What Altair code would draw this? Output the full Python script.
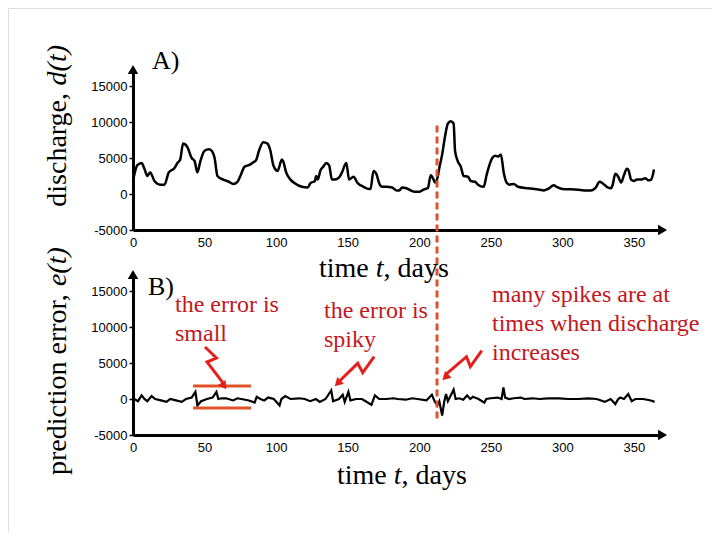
import altair as alt
import pandas as pd

# ---------------- data ----------------
top_days = [0, 3, 6, 8, 10, 12, 15, 19, 22, 25, 29, 31, 33, 35, 38, 41, 43, 45, 47, 50, 53, 55, 57, 59,
            63, 67, 70, 73, 75, 78, 81, 84, 86, 88, 91, 94, 96, 98, 100, 101, 104, 105, 107, 110, 113,
            118, 122, 124, 127, 128, 129, 131, 133, 135, 137, 139, 141, 144, 146, 148, 149, 151, 154,
            157, 161, 165, 166, 168, 170, 172, 174, 177, 181, 184, 186, 188, 191, 194, 197, 200, 202,
            204, 206, 208, 210, 211, 213, 214, 216, 218, 220, 222, 224, 225, 227, 229, 231, 234, 236,
            239, 241, 245, 247, 249, 251, 253, 255, 257, 259, 261, 263, 266, 269, 276, 284, 287, 290,
            294, 296, 300, 311, 315, 320, 323, 326, 328, 331, 334, 335, 337, 339, 341, 343, 345, 346,
            348, 350, 352, 355, 358, 360, 362, 364]
top_vals = [1800, 4000, 4300, 3500, 2500, 3000, 1800, 1300, 1300, 3000, 3600, 4300, 4800, 7000, 6500,
            5000, 4600, 3000, 4500, 6000, 6200, 6000, 5000, 2500, 2000, 1700, 1400, 1700, 2500, 3800,
            4000, 4400, 4700, 6000, 7200, 7000, 6000, 4000, 3300, 3200, 4800, 4500, 3000, 2000, 1500,
            1000, 900, 1500, 1800, 2500, 2000, 3300, 3800, 4300, 4000, 2000, 2000, 2300, 3000, 4000,
            4300, 2000, 2400, 1500, 1000, 700, 700, 3200, 2800, 1500, 1000, 1000, 900, 500, 500, 900,
            800, 500, 300, 300, 500, 700, 800, 2600, 2000, 1600, 2500, 3600, 5500, 8000, 9800, 10100,
            9800, 6000, 4500, 3800, 2500, 2400, 1800, 1700, 1300, 1000, 2600, 4000, 5000, 5300, 5200,
            5500, 3000, 1600, 1300, 1400, 1000, 800, 600, 500, 700, 1200, 1000, 700, 600, 500, 500,
            800, 1700, 1500, 1000, 800, 1200, 2800, 2400, 1600, 2600, 3500, 3400, 2000, 1800, 2000,
            2000, 2200, 1900, 2000, 3400]

err_days = [0, 1, 3.5, 6, 8, 10, 13, 15.5, 19.5, 23.5, 26, 30, 34, 37, 41, 43.6, 45, 47.6, 51.6, 55.6,
            58.3, 59.6, 62, 65, 70, 73, 75.7, 81, 85, 86.4, 89, 91.7, 94.4, 98.4, 102.4, 103.7, 106.4,
            110, 116, 120, 123.8, 127.8, 130.5, 134.5, 138.5, 139.8, 143.9, 146.5, 147.9, 150.5,
            151.9, 155.9, 160, 166.6, 169, 172, 177, 182, 185, 190.6, 195, 198.7, 205, 208.8, 210.7,
            212.6, 214, 216, 217.4, 218.7, 220, 224, 225.4, 228, 230.7, 233.4, 235.6, 237.4, 241.4,
            245.5, 246.8, 250, 254.8, 257.5, 258.8, 260, 262.8, 266, 270.9, 273.5, 279, 284, 290,
            297.6, 304, 311, 318, 324, 329.6, 333.7, 337, 339, 340.4, 343, 346, 348.4, 351, 356.4,
            361.8, 364.4]
err_vals = [0, 0, -300, 500, 0, -300, 400, 0, -200, -400, 0, -200, -400, 0, 200, 1000, -900, -300, 0,
            200, 1000, 0, 100, 100, -200, 100, 0, -200, -500, 300, 0, -200, 200, 0, -900, 0, 400, 0,
            100, 0, -300, 0, -400, 0, 1200, -300, 0, 600, -400, 1000, -200, 0, 0, -800, 500, 0, 0,
            100, 0, -100, 100, 0, -200, 600, -300, -900, -300, -2300, -400, 700, -300, 1300, 0, 100,
            -100, 500, 0, 300, 0, -500, 0, 100, 200, 0, 1600, 200, 0, 100, 200, 0, 100, 0, 100, 100,
            0, 0, 100, 0, -400, 0, -700, 0, 200, 0, 700, -300, 0, 0, -200, -400]

x_ticks = [0, 50, 100, 150, 200, 250, 300, 350]
y_ticks = [-5000, 0, 5000, 10000, 15000]

event_day = 212.4
event_top, event_bottom = 9500, -31400          # in discharge-panel units
band_days = [42, 82.5]
band_vals = [1800, -1250]                        # in error-panel units

arrow_ids = [1, 1, 1, 1, 2, 2, 2, 2, 3, 3, 3, 3]
arrow_order = [0, 1, 2, 3, 0, 1, 2, 3, 0, 1, 2, 3]
arrow_days = [50.3, 58.3, 51.7, 63.0, 168.5, 160.5, 157.0, 143.8, 243.7, 235.7, 233.0, 219.0]
arrow_vals = [7220, 5690, 5140, 2200, 5875, 3653, 4958, 2400, 6708, 4486, 5875, 3500]
head_days = [63.6, 143.0, 218.2]
head_vals = [1806, 2180, 3014]
head_angles = [145, 225, 226]

red_lines = ["the error is", "small", "the error is", "spiky",
             "many spikes are at", "times when discharge", "increases"]

# ---------------- geometry ----------------
W, H = 704, 524
XD, YD = [0, 367], [-5000, 17000]
XR = [125, 650.3]
YT = [222, 63.6]
YB = [427, 268.6]

RED_TXT = "#c4161c"
RED_ARR = "#e3201b"
RED_BAR = "#e0522a"
SERIF = "Times New Roman"


def xs():
    return alt.Scale(domain=XD, range=XR, nice=False, zero=False)


def ys(r):
    return alt.Scale(domain=YD, range=r, nice=False, zero=False)


common_axis = dict(domainColor="black", domainWidth=3, grid=False, labelFont="Liberation Sans",
                   labelFontSize=13, labelColor="black", title=None, labelOverlap=False,
                   labelExpr="'' + datum.value")


def x_axis(ypix):
    return alt.Axis(orient="bottom", offset=-(H - ypix), values=x_ticks, ticks=False,
                    labelPadding=6, labelFlush=False, **common_axis)


def y_axis():
    return alt.Axis(orient="left", offset=-XR[0], values=y_ticks, ticks=True, tickSize=4,
                    tickWidth=1.5, tickColor="black", labelPadding=2, **common_axis)


top_df = pd.DataFrame({"day": top_days, "val": top_vals})
err_df = pd.DataFrame({"day": err_days, "val": err_vals})

top_line = alt.Chart(top_df).mark_line(color="black", strokeWidth=2.5, interpolate="monotone").encode(
    x=alt.X("day:Q", scale=xs(), axis=x_axis(YT[0])),
    y=alt.Y("val:Q", scale=ys(YT), axis=y_axis()),
)
err_line = alt.Chart(err_df).mark_line(color="black", strokeWidth=2.2).encode(
    x=alt.X("day:Q", scale=xs(), axis=x_axis(YB[0])),
    y=alt.Y("val:Q", scale=ys(YB), axis=y_axis()),
)

# axis arrow heads
ax_top = pd.DataFrame({"day": [0, 370], "val": [17300, -5000], "shp": ["triangle-up", "triangle-right"]})
ax_heads_top = alt.Chart(ax_top).mark_point(filled=True, color="black", opacity=1, size=110).encode(
    x=alt.X("day:Q", scale=xs(), axis=None),
    y=alt.Y("val:Q", scale=ys(YT), axis=None),
    shape=alt.Shape("shp:N", scale=None),
)
ax_heads_bot = alt.Chart(ax_top).mark_point(filled=True, color="black", opacity=1, size=110).encode(
    x=alt.X("day:Q", scale=xs(), axis=None),
    y=alt.Y("val:Q", scale=ys(YB), axis=None),
    shape=alt.Shape("shp:N", scale=None),
)

# dashed event line
ev_df = pd.DataFrame({"day": [event_day], "v1": [event_top], "v2": [event_bottom]})
event_rule = alt.Chart(ev_df).mark_rule(color=RED_BAR, strokeWidth=3, strokeDash=[7, 4]).encode(
    x=alt.X("day:Q", scale=xs(), axis=None),
    y=alt.Y("v1:Q", scale=ys(YT), axis=None),
    y2="v2:Q",
)

# small-error band
band_df = pd.DataFrame({"d1": [band_days[0]] * 2, "d2": [band_days[1]] * 2, "val": band_vals})
band = alt.Chart(band_df).mark_rule(color=RED_BAR, strokeWidth=3).encode(
    x=alt.X("d1:Q", scale=xs(), axis=None),
    x2="d2:Q",
    y=alt.Y("val:Q", scale=ys(YB), axis=None),
)

# zig-zag annotation arrows
arr_df = pd.DataFrame({"id": arrow_ids, "k": arrow_order, "day": arrow_days, "val": arrow_vals})
arrows = alt.Chart(arr_df).mark_line(color=RED_ARR, strokeWidth=3).encode(
    x=alt.X("day:Q", scale=xs(), axis=None),
    y=alt.Y("val:Q", scale=ys(YB), axis=None),
    detail="id:N",
    order="k:Q",
)
head_df = pd.DataFrame({"day": head_days, "val": head_vals, "ang": head_angles})
heads = alt.Chart(head_df).mark_point(shape="triangle-up", filled=True, color=RED_ARR, opacity=1,
                                      size=90).encode(
    x=alt.X("day:Q", scale=xs(), axis=None),
    y=alt.Y("val:Q", scale=ys(YB), axis=None),
    angle=alt.Angle("ang:Q", scale=None),
)


def text_layer(rows, **kw):
    df = pd.DataFrame(rows, columns=["label", "px", "py"])
    return alt.Chart(df).mark_text(align="left", baseline="alphabetic", **kw).encode(
        x=alt.X("px:Q", scale=None, axis=None),
        y=alt.Y("py:Q", scale=None, axis=None),
        text="label:N",
    )


M = 8
fs_t = 28
w_time = 2.028 * fs_t
w_t = 0.278 * fs_t
titles_norm = text_layer([
    ("time ", 319 - M, 277 - M), (", days", 319 + w_time + w_t - M, 277 - M),
    ("time ", 337 - M, 484 - M), (", days", 337 + w_time + w_t - M, 484 - M),
], font=SERIF, fontSize=fs_t, color="black")
titles_ital = text_layer([
    ("t", 319 + w_time - M, 277 - M), ("t", 337 + w_time - M, 484 - M),
], font=SERIF, fontSize=fs_t, color="black", fontStyle="italic")

panel_labels = text_layer([("A)", 152 - M, 69 - M), ("B)", 148 - M, 295 - M)],
                          font=SERIF, fontSize=26, color="black")

red_pos = [(175, 312), (175, 341), (324, 318), (324, 347), (492, 302), (492, 331), (492, 360)]
red_text = text_layer([(t, px - M, py - M) for t, (px, py) in zip(red_lines, red_pos)],
                      font=SERIF, fontSize=24, color=RED_TXT)

# rotated y title
fs_y = 28
bx = 66 - M
p1 = 6.748 * fs_y
d1 = 4.332 * fs_y
d2 = 1.444 * fs_y
y_start = 475 - M
disc_start = 45 - M + d2 + d1
ytitle_norm = text_layer([
    ("prediction error, ", bx, y_start), ("discharge, ", bx, disc_start),
], font=SERIF, fontSize=fs_y, color="black", angle=270)
ytitle_ital = text_layer([
    ("e(t)", bx, y_start - p1), ("d(t)", bx, disc_start - d1),
], font=SERIF, fontSize=fs_y, color="black", angle=270, fontStyle="italic")

chart = alt.layer(
    top_line, err_line, event_rule, band, arrows, heads, ax_heads_top, ax_heads_bot,
    titles_norm, titles_ital, panel_labels, ytitle_norm, ytitle_ital, red_text,
).resolve_scale(x="independent", y="independent").properties(
    width=W, height=H, autosize=alt.AutoSizeParams(type="none"), padding=0,
).configure_view(stroke=None).configure_text(font=SERIF).configure(background="white")

chart.save("out.html", embed_options={"renderer": "svg", "actions": False})
